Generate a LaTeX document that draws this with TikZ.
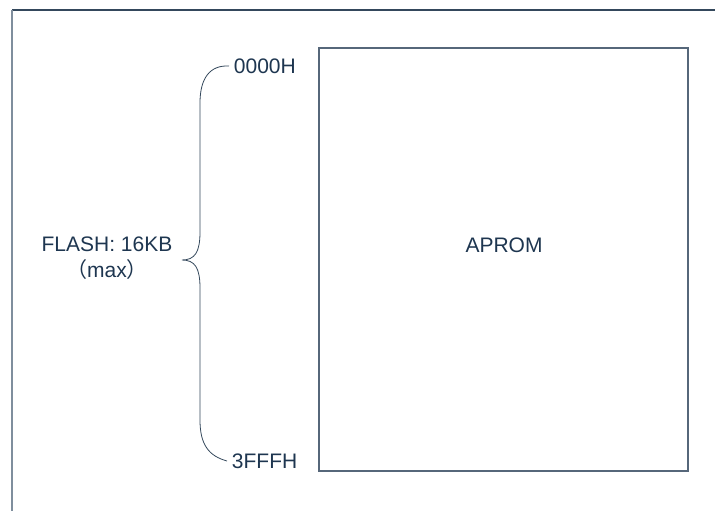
\documentclass[tikz,border=0pt]{standalone}
\usepackage{fontspec}
\setmainfont{Liberation Sans}
\newfontfamily\cjkfont{Noto Sans CJK SC}
\definecolor{txtblue}{HTML}{1E3650}
\definecolor{framegray}{HTML}{7F8E9D}
\definecolor{boxgray}{HTML}{56677A}
\definecolor{bracegray}{HTML}{34485C}

\begin{document}
\begin{tikzpicture}[x=0.75pt,y=0.75pt,yscale=-1,xscale=1,
  lbl/.style={inner sep=0.75pt,text=txtblue,font=\fontsize{15.75}{19.5}\selectfont},
  addr/.style={lbl,inner sep=3.5pt,anchor=west}]
\useasboundingbox (0,0) rectangle (715,511);

% Frame
\draw [color=bracegray,line width=0.9] (12,10) -- (715,10) ;
\draw [color=framegray,line width=1.4] (12,10) -- (12,511) ;

% Box
\draw [color=boxgray,line width=0.9] (319,48) rectangle (688,471) ;
% Text Node
\node [lbl] (aprom) at (504,245) {APROM};
% Text Node
\node [addr] (start) at (229,66) {0000H};
% Text Node
\node [addr] (stop) at (227,461) {3FFFH};
% Text Node
\node [lbl,align=center] (flash) at (107,258) {FLASH: 16KB\\{\cjkfont （}max{\cjkfont ）}};

% Brace
\coordinate (tip) at (182,260);
\draw [color=bracegray,line width=0.6]
  (start.west) .. controls (210,65) and (200,78) .. (200,103)
  -- (200,232) .. controls (200,252) and (195,260) .. (tip)
  .. controls (195,260) and (200,268) .. (200,288)
  -- (200,420) .. controls (200,445) and (209,456) .. (stop.west) ;

\end{tikzpicture}
\end{document}
